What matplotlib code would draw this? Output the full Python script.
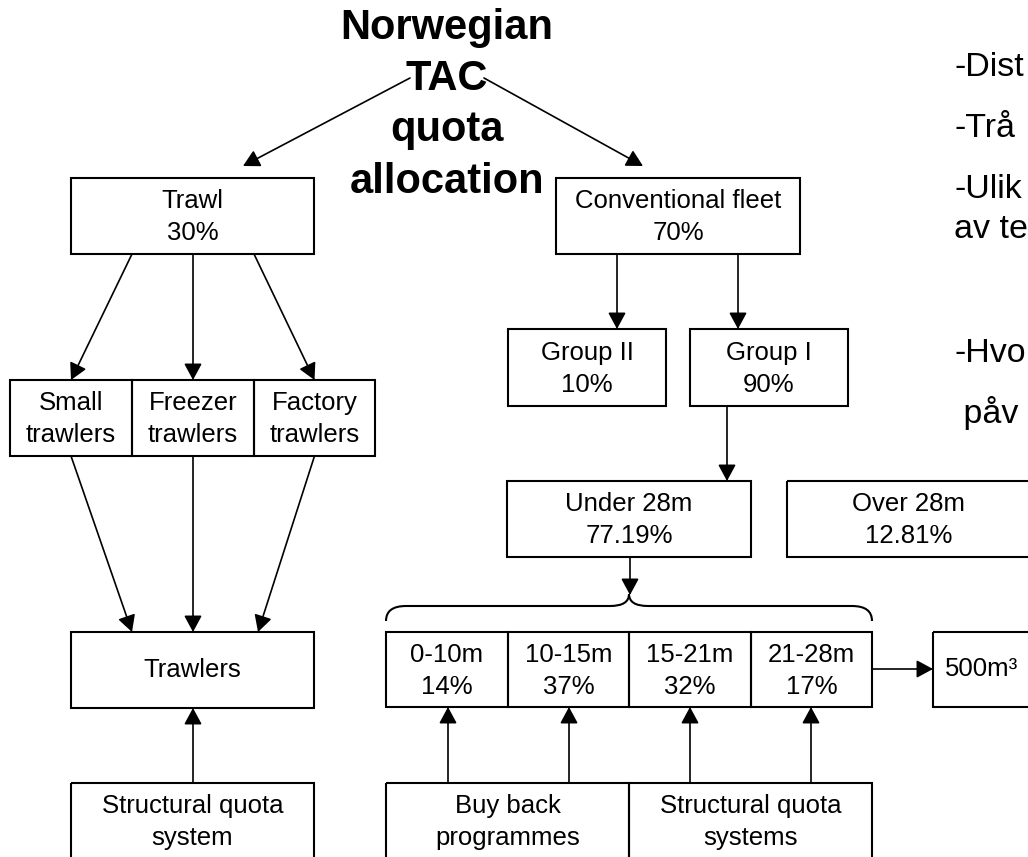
import matplotlib
matplotlib.use("Agg")
import matplotlib.pyplot as plt
from matplotlib.patches import Rectangle, FancyArrowPatch, PathPatch
from matplotlib.path import Path

plt.rcParams['font.family'] = ['Liberation Sans', 'DejaVu Sans']

# chart content
title_lines = ["Norwegian", "TAC", "quota", "allocation"]
fleet_names = ["Trawl", "Conventional fleet"]
fleet_shares = ["30%", "70%"]
trawl_types = [["Small", "trawlers"], ["Freezer", "trawlers"], ["Factory", "trawlers"]]
group_names = ["Group II", "Group I"]
group_shares = ["10%", "90%"]
size_names = ["Under 28m", "Over 28m"]
size_shares = ["77.19%", "12.81%"]
length_groups = ["0-10m", "10-15m", "15-21m", "21-28m"]
length_shares = ["14%", "37%", "32%", "17%"]
programmes = [["Buy back", "programmes"], ["Structural quota", "systems"]]
# only the part visible before the slide edge
side_notes = ["-Dist", "-Trå", "-Ulik", "av te", "-Hvo", " påv"]

W, H = 1028, 857
fig = plt.figure(figsize=(W / 100, H / 100), dpi=100)
ax = fig.add_axes([0, 0, 1, 1])
ax.set_xlim(0, W)
ax.set_ylim(H, 0)
ax.axis("off")

FS = 18.5


def box(x0, y0, x1, y1, lines, base=None):
    ax.add_patch(Rectangle((x0, y0), x1 - x0, y1 - y0, fill=False, lw=1.5, ec="black"))
    cy = (y0 + y1) / 2
    if base is None:
        base = [cy + 7] if len(lines) == 1 else [cy - 8, cy + 24]
    for t, b in zip(lines, base):
        ax.text((x0 + x1) / 2, b, t, ha="center", va="baseline", fontsize=FS)


def arrow(p0, p1):
    ax.add_patch(FancyArrowPatch(p0, p1, arrowstyle="-|>,head_length=0.5,head_width=0.27",
                                 mutation_scale=20, lw=1.2, color="black",
                                 shrinkA=0, shrinkB=0))


# title
for t, b in zip(title_lines, [39, 90, 141, 193]):
    ax.text(447, b, t, ha="center", va="baseline", fontsize=30, fontweight="bold")
arrow((410, 78), (243, 166))
arrow((484, 78), (643, 166))

# trawl side
box(71, 178, 314, 254, [fleet_names[0], fleet_shares[0]])
tx = [(10, 132), (132, 254), (254, 375)]
starts = [132, 193, 254]
for (a, b), lines, s in zip(tx, trawl_types, starts):
    box(a, 380, b, 456, lines)
    arrow((s, 254), ((a + b) / 2, 380))
box(71, 632, 314, 708, ["Trawlers"])
for (a, b), e in zip(tx, [132, 193, 258]):
    arrow(((a + b) / 2, 456), (e, 632))
box(71, 783, 314, 860, ["Structural quota", "system"], base=[813, 845])
arrow((193, 783), (193, 708))

# conventional side
box(556, 178, 800, 254, [fleet_names[1], fleet_shares[1]])
box(508, 329, 666, 406, [group_names[0], group_shares[0]])
box(690, 329, 848, 406, [group_names[1], group_shares[1]])
arrow((617, 254), (617, 329))
arrow((738, 254), (738, 329))
box(507, 481, 751, 557, [size_names[0], size_shares[0]])
box(787, 481, 1030, 557, [size_names[1], size_shares[1]])
arrow((727, 406), (727, 481))
arrow((630, 557), (630, 595))

# brace
verts = [(386, 621), (386, 606), (406, 606), (610, 606), (629, 606), (629, 594),
         (629, 606), (648, 606), (852, 606), (872, 606), (872, 621)]
codes = [Path.MOVETO, Path.CURVE3, Path.CURVE3, Path.LINETO, Path.CURVE3, Path.CURVE3,
         Path.CURVE3, Path.CURVE3, Path.LINETO, Path.CURVE3, Path.CURVE3]
ax.add_patch(PathPatch(Path(verts, codes), fill=False, lw=1.5, ec="black"))

lx = [386, 508, 629, 751, 872]
for i, (n, s) in enumerate(zip(length_groups, length_shares)):
    box(lx[i], 632, lx[i + 1], 707, [n, s])
arrow((872, 669), (933, 669))
box(933, 632, 1031, 707, ["500m³"])

for i, lines in enumerate(programmes):
    box(lx[2 * i], 783, lx[2 * i + 2], 860, lines, base=[813, 845])
for x in [448, 569, 690, 811]:
    arrow((x, 783), (x, 707))

# notes on the right, cut by the slide edge
for t, b in zip(side_notes, [76, 137, 198, 238, 362, 423]):
    ax.text(954, b, t, ha="left", va="baseline", fontsize=24.5)

fig.savefig("out.png", dpi=100)
